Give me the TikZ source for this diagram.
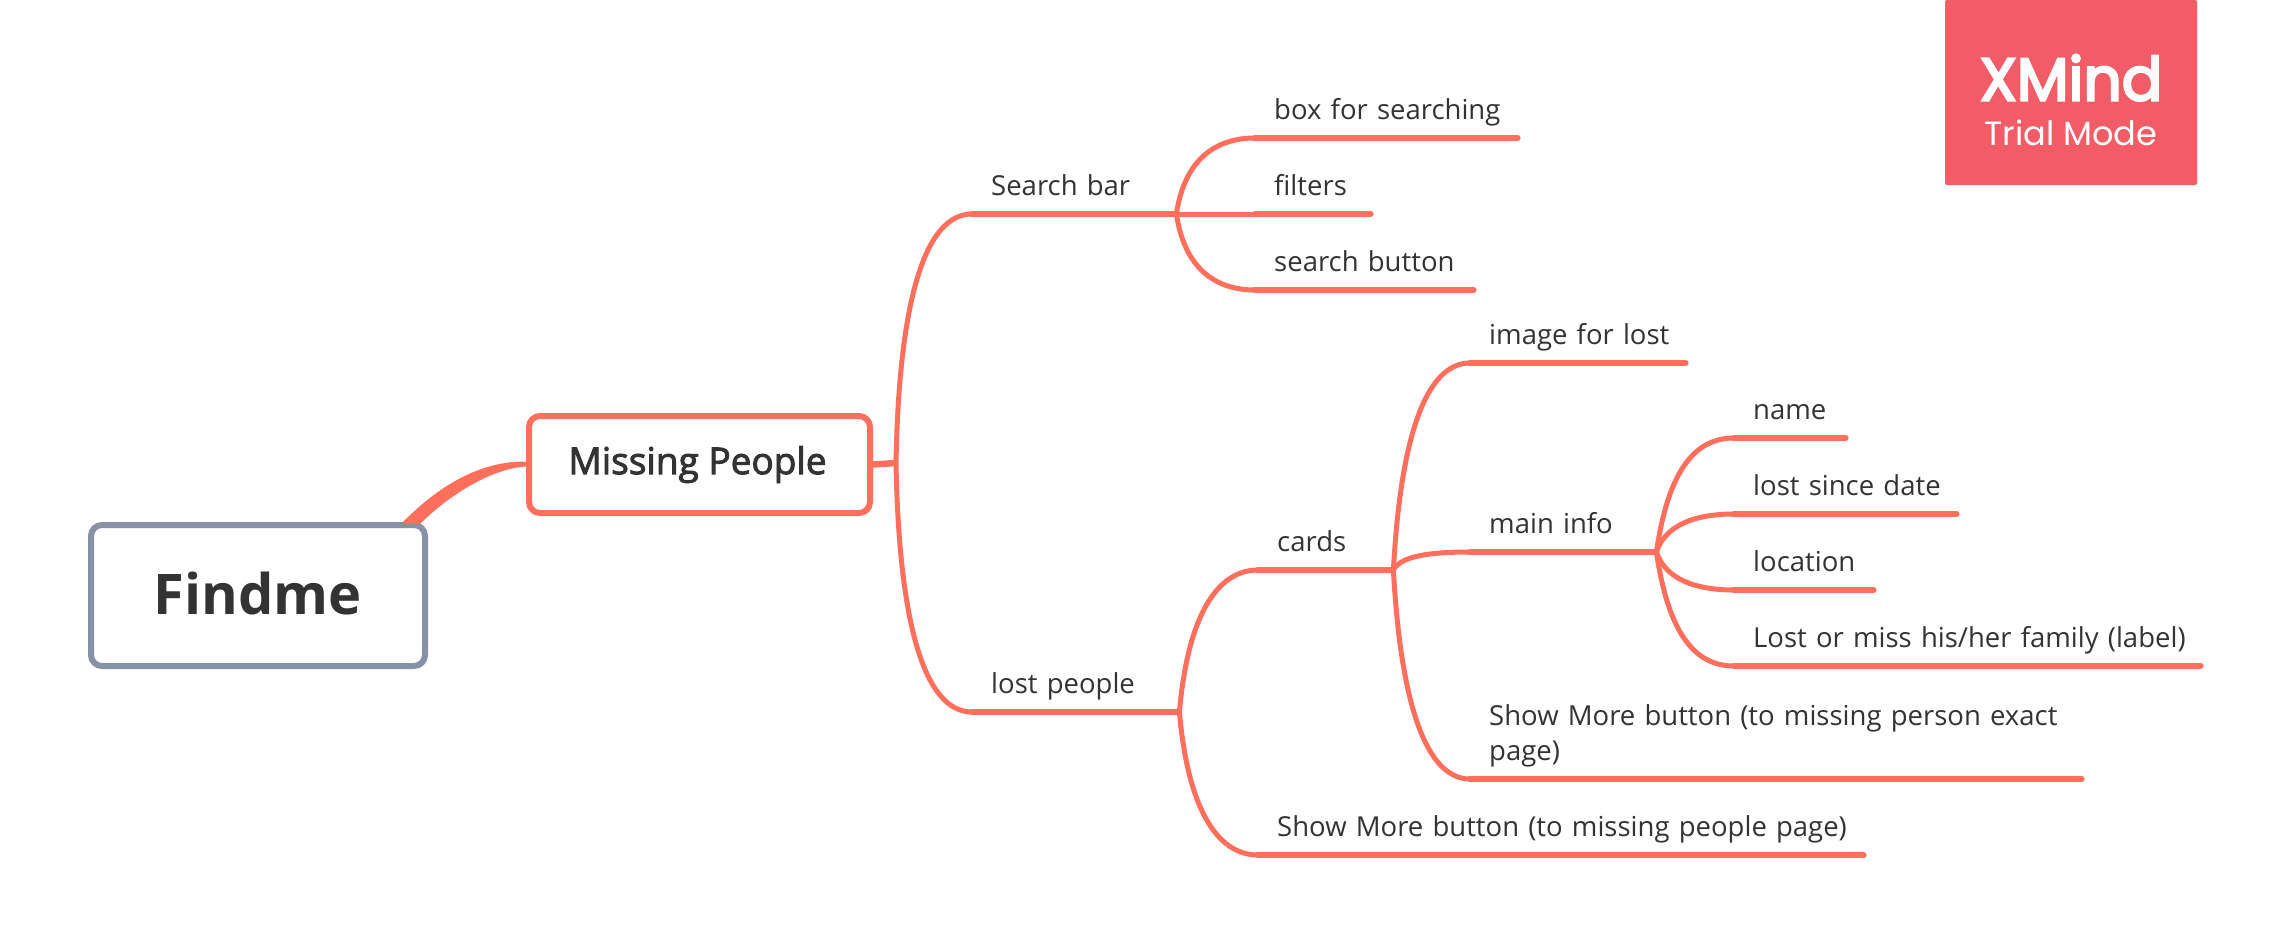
\documentclass[tikz,border=0pt]{standalone}
\usepackage{fontspec}
\usepackage{tikz}
\usetikzlibrary{calc}
\setmainfont{Open Sans}
\newfontfamily\semifont[FakeBold=2.5]{Open Sans}
\newfontfamily\badgefont{Poppins}
\newfontfamily\badgebold[FakeBold=4]{Poppins}
\definecolor{BranchRed}{HTML}{FF6F5C}
\definecolor{RootGrey}{HTML}{8792A6}
\definecolor{TextDark}{HTML}{333333}
\definecolor{BadgeRed}{HTML}{F25C66}
\newcommand{\topicstrut}{\rule[-7pt]{0pt}{31pt}}
\tikzset{
  rootbox/.style={draw=RootGrey,fill=white,line width=6pt,rounded corners=11pt,minimum width=334pt,minimum height=141pt,text=TextDark,font=\fontsize{56}{66}\selectfont\bfseries},
  mainbox/.style={draw=BranchRed,fill=white,line width=6pt,rounded corners=11pt,minimum width=341pt,minimum height=97pt,text=TextDark,font=\fontsize{37}{44}\semifont},
  topic/.style={anchor=south west,inner xsep=10pt,inner ysep=11pt,text width={#1+18pt},align=left,text=TextDark,font=\fontsize{27.5}{35}\selectfont,execute at begin node={\hyphenpenalty=10000\leftskip=9pt\topicstrut},execute at end node=\topicstrut},
  branch/.style={draw=BranchRed,line width=6.5pt,line cap=round,shorten >=3pt},
  curve/.style={draw=BranchRed,line width=5pt}
}
\begin{document}
\begin{tikzpicture}[x=1pt,y=-1pt]
\useasboundingbox (0,0) rectangle (2291,945);
\node[rootbox] (findme) at (258,595.5) {\raisebox{4pt}{Findme}};
\node[mainbox] (missing) at (699.5,464.5) {\hspace*{-4pt}Missing People};
\coordinate (trunk) at (896,463);
\node[topic=166pt] (searchbar) at (972,214) {Search bar};
\node[topic=169pt] (lostpeople) at (972,712) {lost people};
\node[topic=227pt] (boxsearch) at (1255,138) {box for searching};
\node[topic=80pt] (filters) at (1255,214) {filters};
\node[topic=183pt] (searchbtn) at (1255,290) {search button};
\node[topic=97pt] (cards) at (1258,570) {cards};
\node[topic=570pt] (morepeople) at (1258,855) {Show More button (to missing people page)};
\node[topic=180pt] (imagelost) at (1470,363) {image for lost};
\node[topic=148pt] (maininfo) at (1470,552) {main info};
\node[topic=576pt] (moreperson) at (1470,779) {Show More button (to missing person exact\\page)};
\node[topic=76pt] (name) at (1734,438) {name};
\node[topic=187pt] (lostsince) at (1734,514) {lost since date};
\node[topic=104pt] (location) at (1734,590) {location};
\node[topic=431pt] (lostmiss) at (1734,666) {Lost or miss his/her family (label)};
\node[fill=BadgeRed,rounded corners=2pt,minimum width=252pt,minimum height=185pt,text=white,align=center,font=\badgefont] (badge) at (2071,92.5) {\rule{0pt}{61pt}{\fontsize{60}{60}\badgebold XMind}\\[18pt]{\fontsize{33.6}{40}\selectfont Trial Mode}};
\fill[BranchRed] ($(findme.north east)+(-27,2)$) .. controls (436,488) and (478,461) .. ($(missing.west)+(0,-3)$) -- ($(missing.west)+(0,2)$) .. controls (495,468) and (452,492) .. ($(findme.north east)+(-8,2)$) -- cycle;
\draw[branch,line cap=butt,shorten >=0pt] (missing.east) -- (trunk);
\draw[curve] (trunk) .. controls (899,300) and (925,214) .. (searchbar.south west);
\draw[curve] (trunk) .. controls (899,626) and (925,712) .. (lostpeople.south west);
\draw[curve] (searchbar.south east) .. controls +(8,-54) and +(-40,0) .. (boxsearch.south west);
\draw[curve] (searchbar.south east) -- (filters.south west);
\draw[curve] (searchbar.south east) .. controls +(8,54) and +(-40,0) .. (searchbtn.south west);
\draw[curve] (lostpeople.south east) .. controls +(8,-92) and +(-43,0) .. (cards.south west);
\draw[curve] (lostpeople.south east) .. controls +(8,92) and +(-43,0) .. (morepeople.south west);
\draw[curve] (cards.south east) .. controls +(7,-130) and +(-45,0) .. (imagelost.south west);
\draw[curve] (cards.south east) .. controls +(7,-14) and +(-40,0) .. (maininfo.south west);
\draw[curve] (cards.south east) .. controls +(7,130) and +(-45,0) .. (moreperson.south west);
\draw[curve] (maininfo.south east) .. controls +(12,-82) and +(-39,0) .. (name.south west);
\draw[curve] (maininfo.south east) .. controls +(9,-27) and +(-39,0) .. (lostsince.south west);
\draw[curve] (maininfo.south east) .. controls +(9,27) and +(-39,0) .. (location.south west);
\draw[curve] (maininfo.south east) .. controls +(12,82) and +(-39,0) .. (lostmiss.south west);
\foreach \t in {searchbar,lostpeople,boxsearch,filters,searchbtn,cards,morepeople,imagelost,maininfo,moreperson,name,lostsince,location,lostmiss}
  \draw[branch] (\t.south west) -- (\t.south east);
\end{tikzpicture}
\end{document}
